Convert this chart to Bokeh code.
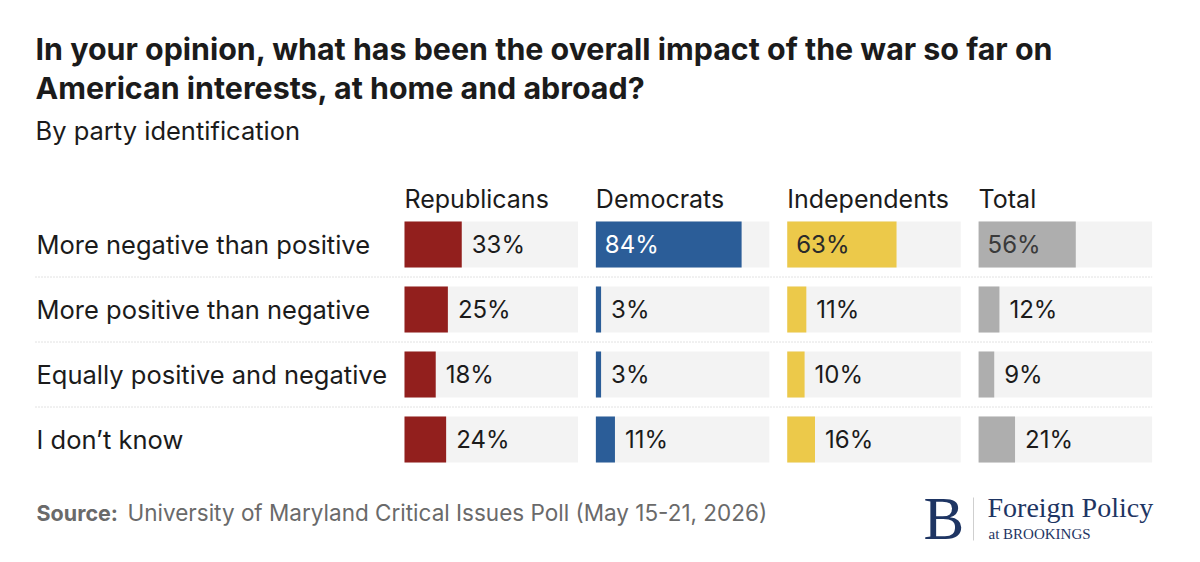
from bokeh.plotting import figure
from bokeh.models import Range1d, Label, ColumnDataSource
from bokeh.embed import file_html
from bokeh.resources import INLINE
from bokeh.core.properties import value

W, H = 1200, 562

# ---- data -------------------------------------------------------------
responses = [
    "More negative than positive",
    "More positive than negative",
    "Equally positive and negative",
    "I don\u2019t know",
]
groups = ["Republicans", "Democrats", "Independents", "Total"]
republicans = [33, 25, 18, 24]
democrats = [84, 3, 3, 11]
independents = [63, 11, 10, 16]
total = [56, 12, 9, 21]
series = [republicans, democrats, independents, total]

bar_colors = ["#921F1D", "#2B5D98", "#ECC94A", "#AEAEAE"]
inside_text_colors = ["#ffffff", "#ffffff", "#2a2a2a", "#3a3a3a"]

# ---- layout constants (pixels / percent units) ------------------------
PX_PER_PCT = 1.735          # horizontal scale of one percentage point
FIRST_PANEL_PX = 404        # left edge of the first panel
PANEL_STEP = 110.3          # panel spacing in percentage units
ROW0_PX = 244               # centre of the first row, from the top
ROW_STEP_PX = 65            # row pitch
BAR_PX = 46                 # bar thickness

FONT = "Inter"
SERIF = "Liberation Serif"
INK = "#1b1b1b"
NAVY = "#1E3563"
SOURCE_GREY = "#6a6a6a"


def xd(px):
    """pixel column -> data x"""
    return (px - FIRST_PANEL_PX) / PX_PER_PCT


def yd(px):
    """pixel row (from top) -> data y"""
    return (px - ROW0_PX) / ROW_STEP_PX


def screen_label(x, y_top, text, size, font=FONT, style="normal",
                 color=INK):
    """text placed in pixel coordinates, y measured from the top"""
    return Label(x=x, y=H - y_top, x_units="screen", y_units="screen",
                 text=text, text_font=font, text_font_size=size,
                 text_font_style=style, text_color=color,
                 text_baseline="middle", text_align="left")


p = figure(
    width=W, height=H,
    x_range=Range1d(xd(0), xd(W)),
    y_range=Range1d(yd(H), yd(0)),
    output_backend="svg", toolbar_location=None,
    min_border=0, x_axis_location=None, y_axis_location=None,
)
p.grid.visible = False
p.outline_line_color = None
p.background_fill_color = "white"
p.border_fill_color = "white"

rows = list(range(len(responses)))
bar_h = BAR_PX / ROW_STEP_PX
offsets = [k * PANEL_STEP for k in range(len(groups))]

# dotted separators between rows
sep_y = [i + 0.5 for i in rows[:-1]]
p.segment(x0=[xd(35)] * len(sep_y), x1=[offsets[-1] + 100] * len(sep_y),
          y0=sep_y, y1=sep_y, line_color="#c4c4c4", line_width=1,
          line_dash="1 2")

for k, (name, vals) in enumerate(zip(groups, series)):
    off = offsets[k]
    # full-width track
    p.hbar(y=rows, left=off, right=off + 100, height=bar_h,
           fill_color="#F3F3F3", line_color=None)
    # value bar
    src = ColumnDataSource(dict(y=rows, left=[off] * len(vals),
                                right=[off + v for v in vals]))
    p.hbar(y="y", left="left", right="right", height=bar_h, source=src,
           fill_color=bar_colors[k], line_color=None)

    # value labels: inside long bars, after short ones
    lx, ly, lt, lc, lo = [], [], [], [], []
    for i, v in enumerate(vals):
        inside = v >= 50
        lx.append(off if inside else off + v)
        lo.append(9 if inside else 10)
        ly.append(i)
        lt.append(f"{v}%")
        lc.append(inside_text_colors[k] if inside else INK)
    p.text(x=lx, y=ly, text=lt, text_color=lc, x_offset=lo,
           text_font=value(FONT), text_font_size="24px",
           text_baseline="middle", text_align="left")

    # group header
    p.add_layout(Label(x=off, y=yd(198), text=name, text_font=FONT,
                       text_font_size="25px", text_color=INK,
                       text_baseline="middle", text_align="left"))

# row labels
p.text(x=[xd(36)] * len(rows), y=rows, text=responses, text_color=INK,
       text_font=value(FONT), text_font_size="25.5px",
       text_baseline="middle", text_align="left")

# title and subtitle
title_lines = [
    "In your opinion, what has been the overall impact of the war so far on",
    "American interests, at home and abroad?",
]
for j, line in enumerate(title_lines):
    p.add_layout(screen_label(35, 48 + 39 * j, line, "30.4px",
                              style="bold"))
p.add_layout(screen_label(35, 130, "By party identification", "25.5px"))

# source line
p.add_layout(screen_label(36, 512, "Source:", "21.5px", style="bold",
                          color=SOURCE_GREY))
p.add_layout(screen_label(127, 512,
                          "University of Maryland Critical Issues Poll (May 15-21, 2026)",
                          "22.5px", color=SOURCE_GREY))

# Foreign Policy at Brookings mark
p.add_layout(screen_label(923, 518, "B", "61px", font=SERIF, color=NAVY))
p.segment(x0=[xd(973)], x1=[xd(973)], y0=[yd(497)], y1=[yd(540)],
          line_color="#cfcfcf", line_width=1)
p.add_layout(screen_label(987, 507, "Foreign Policy", "28px", font=SERIF,
                          color=NAVY))
p.add_layout(screen_label(988, 533, "at BROOKINGS", "15px", font=SERIF,
                          color=NAVY))

open("out.html", "w").write(file_html(p, INLINE))
